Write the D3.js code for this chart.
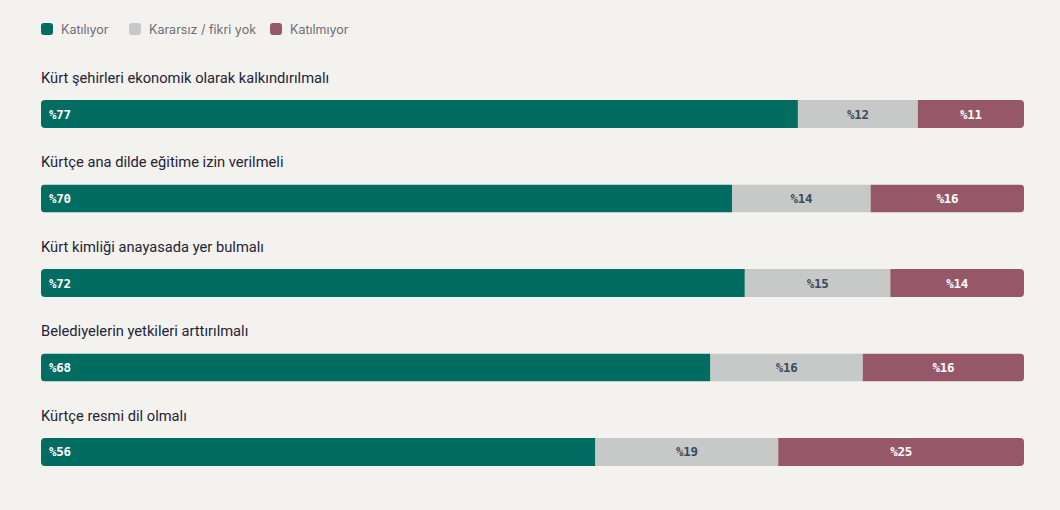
<!DOCTYPE html>
<html>
<head>
<meta charset="utf-8">
<script src="https://cdn.jsdelivr.net/npm/d3@7"></script>
<style>
  body { margin: 0; background: #f3f2ee; }
  svg { display: block; }
</style>
</head>
<body>
<svg id="chart" width="1060" height="510"></svg>
<script>
// statements shown above each bar
const questions = [
  'Kürt şehirleri ekonomik olarak kalkındırılmalı',
  'Kürtçe ana dilde eğitime izin verilmeli',
  'Kürt kimliği anayasada yer bulmalı',
  'Belediyelerin yetkileri arttırılmalı',
  'Kürtçe resmi dil olmalı'
];
const series = ['Katılıyor', 'Kararsız / fikri yok', 'Katılmıyor'];
const colors = ['#006c62', '#c6c9c7', '#965869'];

// shares (labels are rounded)
const agree    = [77, 70.3, 71.6, 68.1, 56.4];
const neutral  = [12.2, 14.1, 14.8, 15.5, 18.6];
const disagree = [10.8, 15.6, 13.6, 16.4, 25];

const svg = d3.select('#chart');
const left = 41, right = 1024;

const x = d3.scaleLinear().domain([0, 100]).range([left, right]);
const y = d3.scaleBand().domain(questions).range([100, 466]).paddingInner(0.6686).paddingOuter(0);

const rows = questions.map((q, i) => ({ q, i, vals: [agree[i], neutral[i], disagree[i]] }));

// legend
const legend = svg.append('g').attr('transform', 'translate(41,23)');
const legendX = [0, 88, 229];
series.forEach((s, i) => {
  const g = legend.append('g').attr('transform', `translate(${legendX[i]},0)`);
  g.append('rect').attr('width', 12).attr('height', 12).attr('rx', 3).attr('fill', colors[i]);
  g.append('text').attr('x', 20).attr('y', 11)
    .attr('font-family', 'Inter, "Noto Sans", sans-serif').attr('font-size', 12.5)
    .attr('fill', '#6e6c7a').text(s);
});

const defs = svg.append('defs');

const row = svg.selectAll('.row').data(rows).enter().append('g').attr('class', 'row');

row.append('text')
  .attr('x', left)
  .attr('y', d => y(d.q) - 17)
  .attr('font-family', 'Roboto, "Noto Sans", sans-serif')
  .attr('font-size', 14.7)
  .attr('fill', '#24233a')
  .text(d => d.q);

row.each(function (d) {
  defs.append('clipPath').attr('id', 'clip' + d.i)
    .append('rect')
    .attr('x', left).attr('y', y(d.q))
    .attr('width', right - left).attr('height', y.bandwidth())
    .attr('rx', 4);
});

row.each(function (d) {
  const g = d3.select(this).append('g').attr('clip-path', `url(#clip${d.i})`);
  let acc = 0;
  const segs = d.vals.map((v, k) => {
    const s = { k, v, x0: acc, x1: acc + v };
    acc += v;
    return s;
  });
  g.selectAll('rect').data(segs).enter().append('rect')
    .attr('x', s => x(s.x0))
    .attr('y', y(d.q))
    .attr('width', s => x(s.x1) - x(s.x0))
    .attr('height', y.bandwidth())
    .attr('fill', s => colors[s.k]);
  d3.select(this).selectAll('.lbl').data(segs).enter().append('text')
    .attr('class', 'lbl')
    .attr('x', s => s.k === 0 ? left + 8 : (x(s.x0) + x(s.x1)) / 2)
    .attr('y', y(d.q) + y.bandwidth() / 2 + 4.5)
    .attr('text-anchor', s => s.k === 0 ? 'start' : 'middle')
    .attr('font-family', '"DejaVu Sans Mono", monospace')
    .attr('font-weight', 'bold')
    .attr('font-size', 12.5)
    .attr('letter-spacing', -0.3)
    .attr('fill', s => s.k === 1 ? '#3b4a5e' : '#ffffff')
    .text(s => '%' + Math.round(s.v));
});
</script>
</body>
</html>
